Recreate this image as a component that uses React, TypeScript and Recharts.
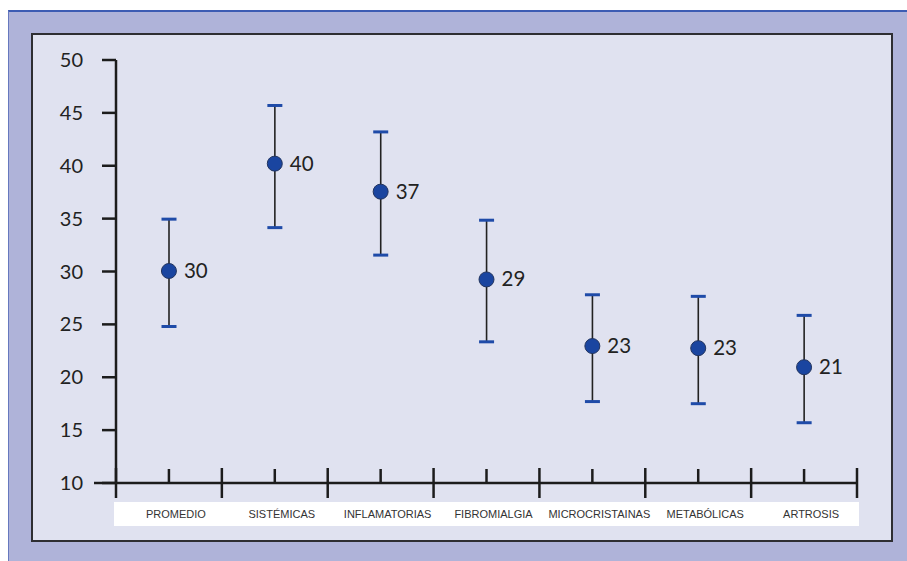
import React from "react";
import { ComposedChart, Bar, Line, XAxis, YAxis, LabelList } from "recharts";

const categories = ["PROMEDIO", "SISTÉMICAS", "INFLAMATORIAS", "FIBROMIALGIA", "MICROCRISTAINAS", "METABÓLICAS", "ARTROSIS"];
const means = [30.05, 40.2, 37.55, 29.25, 22.95, 22.75, 20.95];
const lows = [24.8, 34.15, 31.55, 23.35, 17.7, 17.5, 15.7];
const highs = [34.95, 45.7, 43.2, 34.85, 27.8, 27.65, 25.85];
const labels = ["30", "40", "37", "29", "23", "23", "21"];
const yTicks = [10, 15, 20, 25, 30, 35, 40, 45, 50];

const data = categories.map((name, i) => ({
  name,
  mean: means[i],
  range: [lows[i], highs[i]],
  label: labels[i],
}));

const AXIS = "#1c1c1c";
const CAP = "#1f4ba8";
const DOT = "#1a45a0";
const NUM_FONT = "Lato, 'Open Sans', sans-serif";

const ErrorShape = (props: any) => {
  const { x, y, width, height } = props;
  if (x == null || y == null) return null;
  const cx = x + width / 2;
  const top = y;
  const bottom = y + height;
  return (
    <g>
      <line x1={cx} y1={top} x2={cx} y2={bottom} stroke="#222" strokeWidth={1.6} />
      <line x1={cx - 7.5} y1={top} x2={cx + 7.5} y2={top} stroke={CAP} strokeWidth={3} />
      <line x1={cx - 7.5} y1={bottom} x2={cx + 7.5} y2={bottom} stroke={CAP} strokeWidth={3} />
    </g>
  );
};

const Dot = (props: any) => {
  const { cx, cy } = props;
  if (cx == null || cy == null) return null;
  return <circle cx={cx} cy={cy} r={7.5} fill={DOT} stroke="#23355f" strokeWidth={1} />;
};

const ValueLabel = (props: any) => {
  const { x, y, value } = props;
  return (
    <text x={x + 15} y={y} dy={7} fontSize={20.5} fill="#222" fontFamily={NUM_FONT}>
      {value}
    </text>
  );
};

const XTick = (props: any) => {
  const { x, y, payload, index, visibleTicksCount } = props;
  const off = payload && payload.offset ? payload.offset : 52.9;
  const isLast = index === (visibleTicksCount ?? categories.length) - 1;
  return (
    <g>
      <line x1={x} y1={y - 14} x2={x} y2={y} stroke={AXIS} strokeWidth={2.5} />
      <line x1={x - off} y1={y - 15} x2={x - off} y2={y + 15} stroke={AXIS} strokeWidth={2.5} />
      {isLast && (
        <line x1={x + off} y1={y - 15} x2={x + off} y2={y + 15} stroke={AXIS} strokeWidth={2.5} />
      )}
      <text x={x} dx={7} y={y + 35} textAnchor="middle" fontSize={11} fill="#333" fontFamily="'Liberation Sans', Arial, sans-serif">
        {payload.value}
      </text>
    </g>
  );
};

const YTick = (props: any) => {
  const { x, y, payload } = props;
  const axisX = x + 33;
  return (
    <g>
      {payload.value === 10 && (
        <line x1={axisX - 22} y1={y} x2={axisX} y2={y} stroke={AXIS} strokeWidth={2.5} />
      )}
      <text x={x} y={y} dy={7} textAnchor="end" fontSize={20} fill="#222" fontFamily={NUM_FONT}>
        {payload.value}
      </text>
    </g>
  );
};

export default function App() {
  return (
    <div style={{ position: "relative", width: 907, height: 561, background: "#fff", overflow: "hidden" }}>
      <style>{"body{margin:0}"}</style>
      <div
        style={{
          position: "absolute",
          left: 8,
          top: 10,
          width: 920,
          height: 560,
          background: "#afb3d9",
          borderTop: "2px solid #3d5cb3",
          borderLeft: "1px solid #6678be",
          boxSizing: "border-box",
        }}
      />
      <div
        style={{
          position: "absolute",
          left: 31,
          top: 33,
          width: 862,
          height: 509,
          background: "#e0e2f0",
          border: "2px solid #2e2e32",
          boxSizing: "border-box",
        }}
      />
      <div style={{ position: "absolute", left: 114, top: 502, width: 745, height: 24, background: "#fff" }} />
      <div style={{ position: "absolute", left: 0, top: 0 }}>
        <ComposedChart
          width={907}
          height={561}
          data={data}
          margin={{ top: 60, right: 50, bottom: 38, left: 0 }}
        >
          <XAxis
            dataKey="name"
            height={40}
            axisLine={{ stroke: AXIS, strokeWidth: 2.5 }}
            tickLine={false}
            tickSize={0}
            tickMargin={0}
            interval={0}
            tick={<XTick />}
          />
          <YAxis
            type="number"
            domain={[10, 50]}
            ticks={yTicks}
            width={116}
            axisLine={{ stroke: AXIS, strokeWidth: 2.5 }}
            tickLine={{ stroke: AXIS, strokeWidth: 2.5 }}
            tickSize={14}
            tickMargin={19}
            interval={0}
            tick={<YTick />}
            allowDataOverflow
          />
          <Bar dataKey="range" shape={<ErrorShape />} isAnimationActive={false} barSize={16} />
          <Line
            dataKey="mean"
            stroke="none"
            dot={<Dot />}
            activeDot={false}
            isAnimationActive={false}
          >
            <LabelList dataKey="label" content={<ValueLabel />} />
          </Line>
        </ComposedChart>
      </div>
    </div>
  );
}
